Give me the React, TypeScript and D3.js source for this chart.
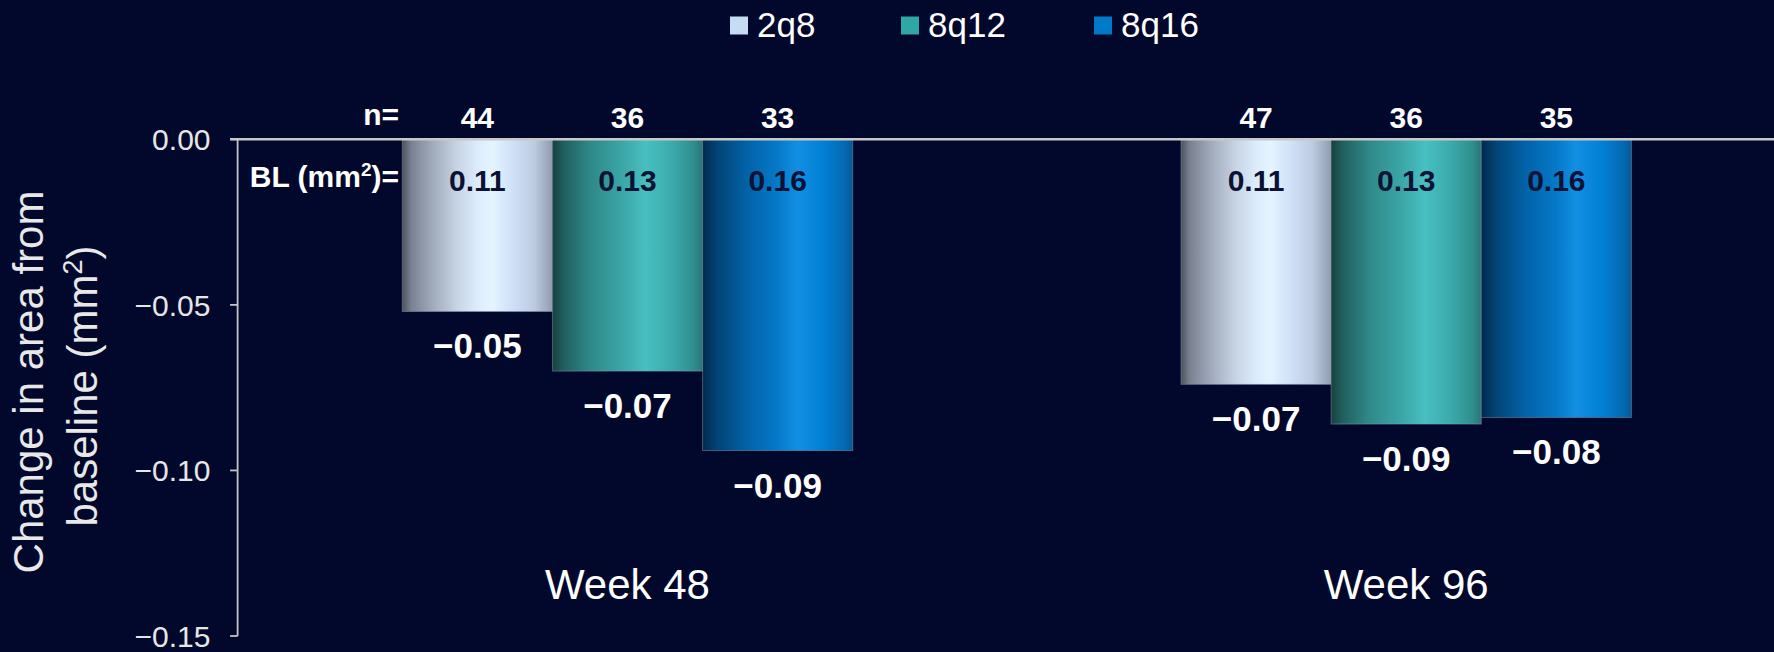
import React from "react";
import * as d3 from "d3";

// ---------- data ----------
const categories = ["Week 48", "Week 96"];
const seriesNames = ["2q8", "8q12", "8q16"];
const values2q8 = [-0.052, -0.074];
const values8q12 = [-0.07, -0.086];
const values8q16 = [-0.094, -0.084];
const n2q8 = [44, 47];
const n8q12 = [36, 36];
const n8q16 = [33, 35];
const bl2q8 = [0.11, 0.11];
const bl8q12 = [0.13, 0.13];
const bl8q16 = [0.16, 0.16];
const yTicks = [0, -0.05, -0.1, -0.15];
const yTitleLines = ["Change in area from", "baseline (mm"];

const seriesValues = [values2q8, values8q12, values8q16];
const seriesN = [n2q8, n8q12, n8q16];
const seriesBL = [bl2q8, bl8q12, bl8q16];

// ---------- styles / layout ----------
const W = 1774;
const H = 652;
const BG = "#01082b";
const FONT = "'Liberation Sans', Arial, Helvetica, sans-serif";
const AXIS_X = 237.6;
const Y0 = 139.3;
const YMIN = 636;

const gradStops: Record<string, [number, string][]> = {
  "2q8": [
    [0, "#4c535e"],
    [0.06, "#7a8291"],
    [0.2, "#a0aabb"],
    [0.36, "#c6d3e3"],
    [0.5, "#dcecfd"],
    [0.6, "#e4f4ff"],
    [0.72, "#d2e2f9"],
    [0.88, "#bccbe0"],
    [1, "#8f9bb1"],
  ],
  "8q12": [
    [0, "#17413f"],
    [0.08, "#21605f"],
    [0.25, "#2f8888"],
    [0.45, "#3aa3a4"],
    [0.62, "#48bfc1"],
    [0.78, "#3cadae"],
    [0.94, "#308e8e"],
    [1, "#2a7575"],
  ],
  "8q16": [
    [0, "#012a4e"],
    [0.1, "#034476"],
    [0.3, "#0263a9"],
    [0.5, "#0579c8"],
    [0.63, "#128fe2"],
    [0.8, "#0280d5"],
    [0.95, "#0468b0"],
    [1, "#045895"],
  ],
};
const legendColors: Record<string, string> = {
  "2q8": "#c6dcf2",
  "8q12": "#2fa7a6",
  "8q16": "#0079c9",
};
const legendX = [730, 901, 1094];

export default function App() {
  const y = d3.scaleLinear().domain([0, -0.15]).range([Y0, YMIN]);
  const x0 = d3
    .scaleBand<string>()
    .domain(categories)
    .range([AXIS_X, 1796.1])
    .paddingInner(0.4216)
    .paddingOuter(0.2115);
  const x1 = d3
    .scaleBand<string>()
    .domain(seriesNames)
    .range([0, x0.bandwidth()])
    .padding(0);
  const fmt = d3.format(".2f");
  const bw = x1.bandwidth();

  return (
    <svg
      width={W}
      height={H}
      style={{ position: "absolute", left: 0, top: 0, display: "block" }}
      fontFamily={FONT}
    >
      <defs>
        {seriesNames.map((s, i) => (
          <linearGradient key={s} id={`grad${i}`} x1="0" x2="1" y1="0" y2="0">
            {gradStops[s].map(([o, c], j) => (
              <stop key={j} offset={o} stopColor={c} />
            ))}
          </linearGradient>
        ))}
      </defs>
      <rect x={0} y={0} width={W} height={H} fill={BG} />

      {/* legend */}
      {seriesNames.map((s, i) => (
        <g key={s}>
          <rect x={legendX[i]} y={16.5} width={18} height={18} fill={legendColors[s]} />
          <text x={legendX[i] + 27} y={36.5} fontSize={35} fill="#ffffff">
            {s}
          </text>
        </g>
      ))}

      {/* bars */}
      {categories.map((c, ci) =>
        seriesNames.map((s, si) => {
          const v = seriesValues[si][ci];
          const bx = (x0(c) as number) + (x1(s) as number);
          return (
            <rect
              key={`${c}-${s}`}
              x={bx}
              y={y(0)}
              width={bw}
              height={y(v) - y(0)}
              fill={`url(#grad${si})`}
              stroke="rgba(150,160,180,0.45)"
              strokeWidth={1}
            />
          );
        })
      )}

      {/* y axis */}
      <line x1={AXIS_X} x2={AXIS_X} y1={Y0} y2={YMIN} stroke="#c4c4c4" strokeWidth={1.8} />
      {yTicks.map((t) => (
        <g key={t}>
          <line x1={AXIS_X - 7.5} x2={AXIS_X} y1={y(t)} y2={y(t)} stroke="#c4c4c4" strokeWidth={1.8} />
          <text
            x={210.5}
            y={y(t)}
            dy="0.36em"
            textAnchor="end"
            fontSize={30}
            fill="#e6e6e6"
          >
            {fmt(t)}
          </text>
        </g>
      ))}
      {/* zero line */}
      <line x1={AXIS_X - 7.5} x2={W} y1={y(0)} y2={y(0)} stroke="#c8c8c8" strokeWidth={2.6} />

      {/* y axis title */}
      <text
        transform={`translate(43,382) rotate(-90)`}
        textAnchor="middle"
        fontSize={42}
        fill="#e8e8e8"
      >
        {yTitleLines[0]}
      </text>
      <text
        transform={`translate(96.5,386) rotate(-90)`}
        textAnchor="middle"
        fontSize={42}
        fill="#e8e8e8"
      >
        {yTitleLines[1]}
        <tspan fontSize={27} dy={-15}>
          2
        </tspan>
        <tspan dy={15}>)</tspan>
      </text>

      {/* row labels */}
      <text x={399} y={125} textAnchor="end" fontSize={30} fontWeight="bold" fill="#ffffff">
        n=
      </text>
      <text x={399} y={187} textAnchor="end" fontSize={30} fontWeight="bold" fill="#ffffff">
        BL (mm
        <tspan fontSize={19} dy={-11}>
          2
        </tspan>
        <tspan dy={11}>)=</tspan>
      </text>

      {/* per-bar labels */}
      {categories.map((c, ci) =>
        seriesNames.map((s, si) => {
          const v = seriesValues[si][ci];
          const cx = (x0(c) as number) + (x1(s) as number) + bw / 2;
          return (
            <g key={`lab-${c}-${s}`}>
              <text x={cx} y={128} textAnchor="middle" fontSize={30} fontWeight="bold" fill="#ffffff">
                {seriesN[si][ci]}
              </text>
              <text x={cx} y={191} textAnchor="middle" fontSize={30} fontWeight="bold" fill="#0b1233">
                {seriesBL[si][ci].toFixed(2)}
              </text>
              <text x={cx} y={y(v) + 47} textAnchor="middle" fontSize={35} fontWeight="bold" fill="#ffffff">
                {fmt(v)}
              </text>
            </g>
          );
        })
      )}

      {/* category labels */}
      {categories.map((c) => (
        <text
          key={c}
          x={(x0(c) as number) + x0.bandwidth() / 2}
          y={599}
          textAnchor="middle"
          fontSize={42}
          fill="#ffffff"
        >
          {c}
        </text>
      ))}
    </svg>
  );
}
